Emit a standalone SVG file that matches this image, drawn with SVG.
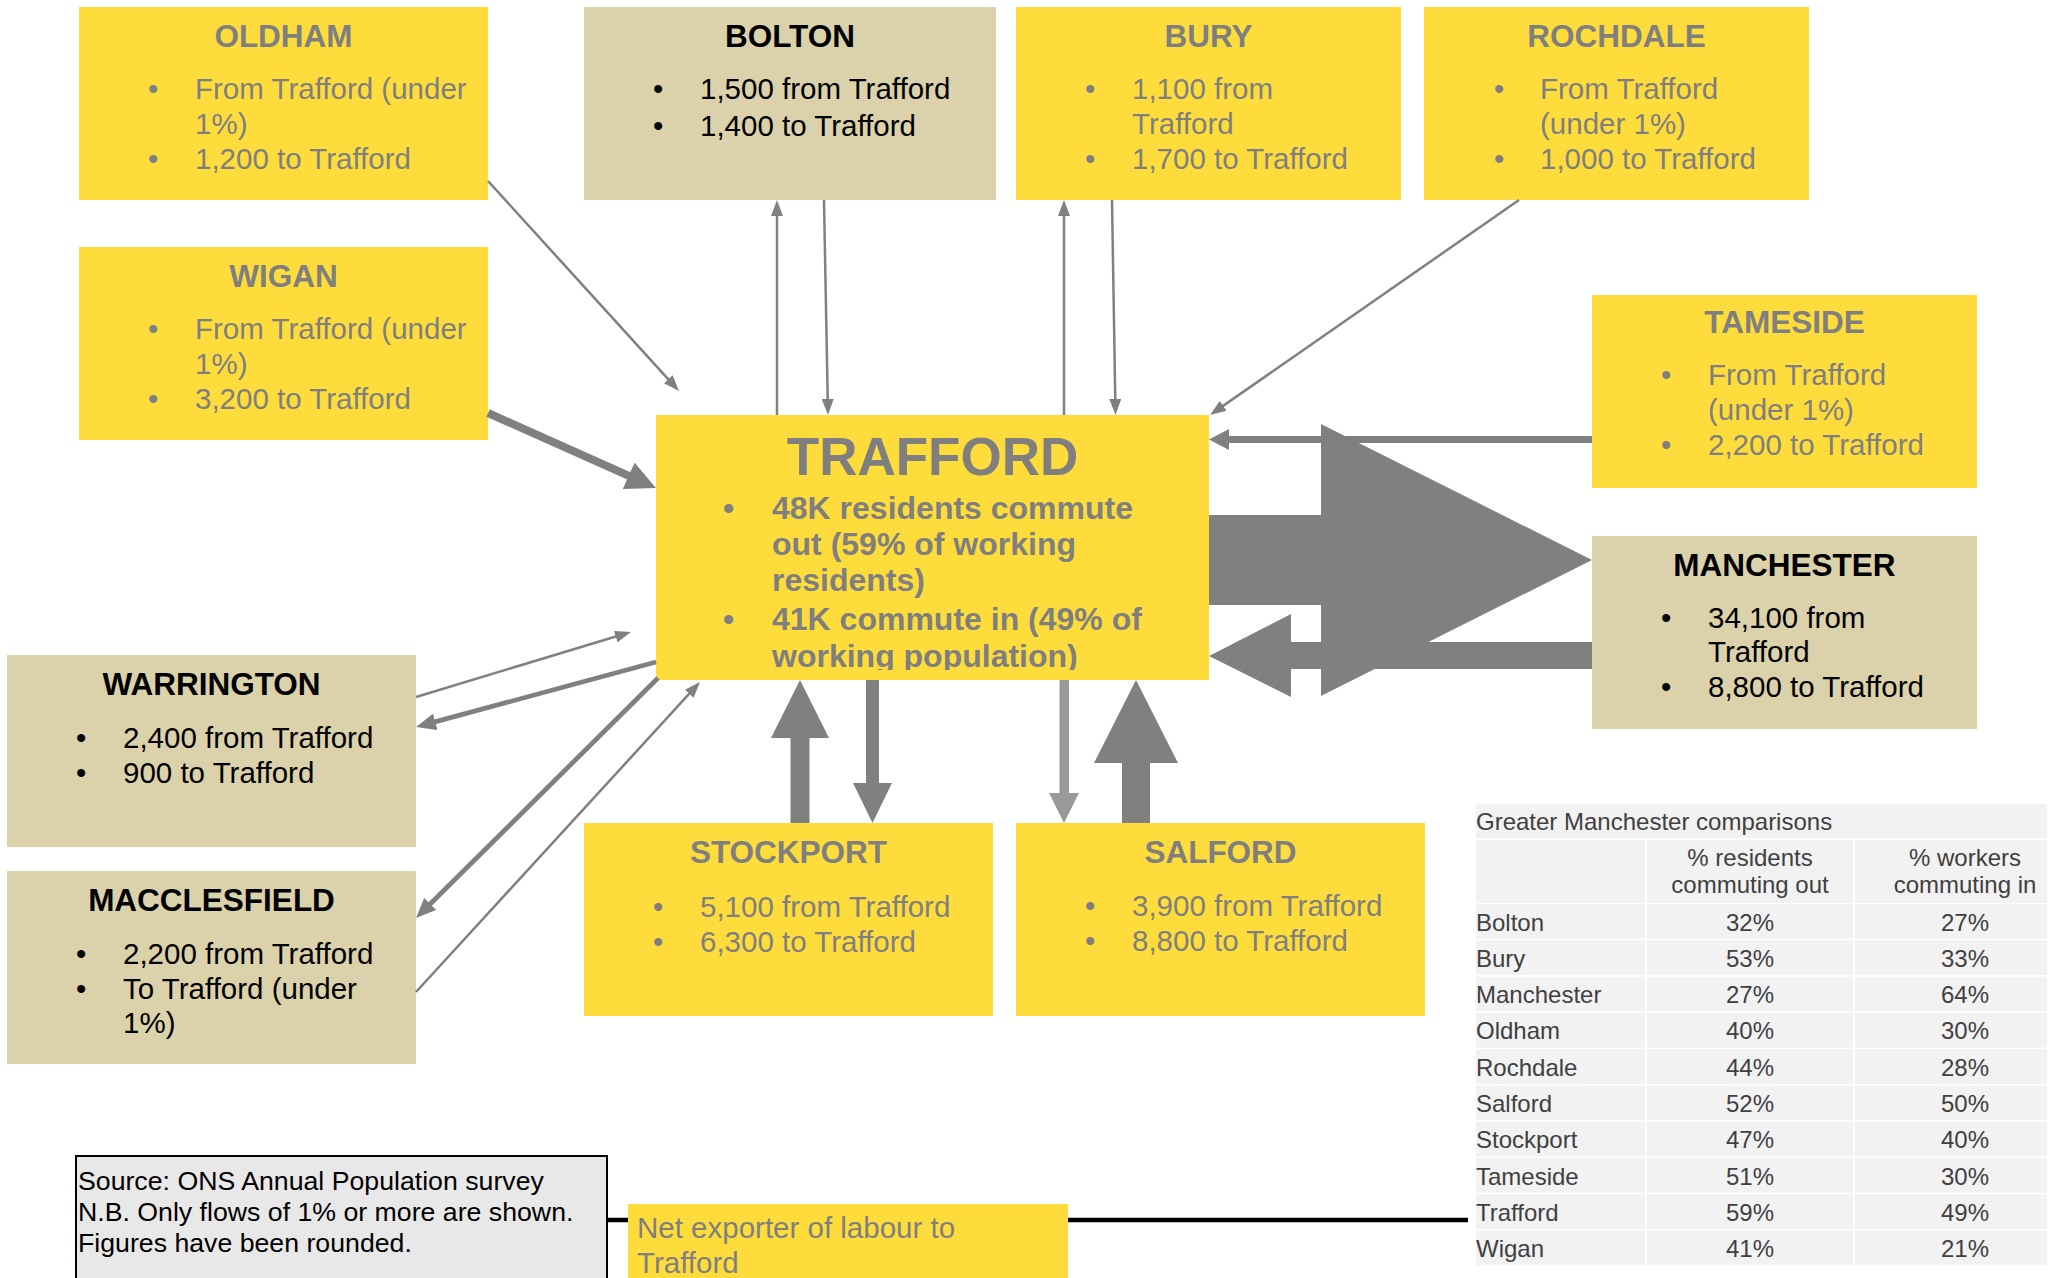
<svg xmlns="http://www.w3.org/2000/svg" width="2053" height="1278" viewBox="0 0 2053 1278">
<style>
text{font-family:"Liberation Sans",Arial,sans-serif}
.y{fill:#FEDC3C}
.b{fill:#DBD2AB}
.h{font-weight:bold;font-size:31.5px;text-anchor:middle}
.p{font-size:29.5px}
.g{fill:#7F7F7F}
.k{fill:#000}
.ln{stroke:#808080;fill:none}
.ar{fill:#808080}
.tc{fill:#F2F2F2}
.tt{font-size:24px;fill:#404040}
.tm{text-anchor:middle}
</style>
<defs>
<marker id="mThin" markerUnits="userSpaceOnUse" markerWidth="16" markerHeight="12" refX="8" refY="6" orient="auto"><path d="M0,0 L16,6 L0,12 z" fill="#808080"/></marker>
<marker id="mMed" markerUnits="userSpaceOnUse" markerWidth="20" markerHeight="17" refX="10" refY="8.5" orient="auto"><path d="M0,0 L20,8.5 L0,17 z" fill="#808080"/></marker>
<marker id="mWig" markerUnits="userSpaceOnUse" markerWidth="30" markerHeight="29" refX="15" refY="14.5" orient="auto"><path d="M0,0 L30,14.5 L0,29 z" fill="#808080"/></marker>
<marker id="mTam" markerUnits="userSpaceOnUse" markerWidth="20" markerHeight="21" refX="10" refY="10.5" orient="auto"><path d="M0,0 L20,10.5 L0,21 z" fill="#808080"/></marker>
<clipPath id="trClip"><rect x="656" y="415" width="553" height="255"/></clipPath>
</defs>

<g id="oldham">
<rect class="y" x="79" y="7" width="409" height="193"/>
<text class="h g" x="283.5" y="47">OLDHAM</text>
<text class="p g" x="148" y="99">•</text><text class="p g" x="195" y="99">From Trafford (under</text>
<text class="p g" x="195" y="134">1%)</text>
<text class="p g" x="148" y="169">•</text><text class="p g" x="195" y="169">1,200 to Trafford</text>
</g>

<g id="bolton">
<rect class="b" x="584" y="7" width="412" height="193"/>
<text class="h k" x="790" y="47">BOLTON</text>
<text class="p k" x="653" y="99">•</text><text class="p k" x="700" y="99">1,500 from Trafford</text>
<text class="p k" x="653" y="135.5">•</text><text class="p k" x="700" y="135.5">1,400 to Trafford</text>
</g>

<g id="bury">
<rect class="y" x="1016" y="7" width="385" height="193"/>
<text class="h g" x="1208.5" y="47">BURY</text>
<text class="p g" x="1085" y="99">•</text><text class="p g" x="1132" y="99">1,100 from</text>
<text class="p g" x="1132" y="134">Trafford</text>
<text class="p g" x="1085" y="169">•</text><text class="p g" x="1132" y="169">1,700 to Trafford</text>
</g>

<g id="rochdale">
<rect class="y" x="1424" y="7" width="385" height="193"/>
<text class="h g" x="1616.5" y="47">ROCHDALE</text>
<text class="p g" x="1494" y="99">•</text><text class="p g" x="1540" y="99">From Trafford</text>
<text class="p g" x="1540" y="134">(under 1%)</text>
<text class="p g" x="1494" y="169">•</text><text class="p g" x="1540" y="169">1,000 to Trafford</text>
</g>

<g id="wigan">
<rect class="y" x="79" y="247" width="409" height="193"/>
<text class="h g" x="283.5" y="287">WIGAN</text>
<text class="p g" x="148" y="339">•</text><text class="p g" x="195" y="339">From Trafford (under</text>
<text class="p g" x="195" y="374">1%)</text>
<text class="p g" x="148" y="409">•</text><text class="p g" x="195" y="409">3,200 to Trafford</text>
</g>

<g id="tameside">
<rect class="y" x="1592" y="295" width="385" height="193"/>
<text class="h g" x="1784.5" y="333">TAMESIDE</text>
<text class="p g" x="1661" y="384.5">•</text><text class="p g" x="1708" y="384.5">From Trafford</text>
<text class="p g" x="1708" y="419.5">(under 1%)</text>
<text class="p g" x="1661" y="454.5">•</text><text class="p g" x="1708" y="454.5">2,200 to Trafford</text>
</g>

<g id="manchester">
<rect class="b" x="1592" y="536" width="385" height="193"/>
<text class="h k" x="1784.5" y="576">MANCHESTER</text>
<text class="p k" x="1661" y="628">•</text><text class="p k" x="1708" y="628">34,100 from</text>
<text class="p k" x="1708" y="662">Trafford</text>
<text class="p k" x="1661" y="697">•</text><text class="p k" x="1708" y="697">8,800 to Trafford</text>
</g>

<g id="trafford">
<rect class="y" x="656" y="415" width="553" height="265"/>
<text class="g" x="932.5" y="475" font-size="53" font-weight="bold" text-anchor="middle">TRAFFORD</text>
<g clip-path="url(#trClip)" font-size="32" font-weight="bold">
<text class="g" x="723" y="518.5">•</text><text class="g" x="772" y="518.5">48K residents commute</text>
<text class="g" x="772" y="554.5">out (59% of working</text>
<text class="g" x="772" y="590.5">residents)</text>
<text class="g" x="723" y="630">•</text><text class="g" x="772" y="630">41K commute in (49% of</text>
<text class="g" x="772" y="667">working population)</text>
</g>
</g>

<g id="warrington">
<rect class="b" x="7" y="655" width="409" height="192"/>
<text class="h k" x="211.5" y="695">WARRINGTON</text>
<text class="p k" x="76" y="747.5">•</text><text class="p k" x="123" y="747.5">2,400 from Trafford</text>
<text class="p k" x="76" y="783">•</text><text class="p k" x="123" y="783">900 to Trafford</text>
</g>

<g id="macclesfield">
<rect class="b" x="7" y="871" width="409" height="193"/>
<text class="h k" x="211.5" y="911">MACCLESFIELD</text>
<text class="p k" x="76" y="964">•</text><text class="p k" x="123" y="964">2,200 from Trafford</text>
<text class="p k" x="76" y="999">•</text><text class="p k" x="123" y="999">To Trafford (under</text>
<text class="p k" x="123" y="1033">1%)</text>
</g>

<g id="stockport">
<rect class="y" x="584" y="823" width="409" height="193"/>
<text class="h g" x="788.5" y="863">STOCKPORT</text>
<text class="p g" x="653" y="916.5">•</text><text class="p g" x="700" y="916.5">5,100 from Trafford</text>
<text class="p g" x="653" y="952">•</text><text class="p g" x="700" y="952">6,300 to Trafford</text>
</g>

<g id="salford">
<rect class="y" x="1016" y="823" width="409" height="193"/>
<text class="h g" x="1220.5" y="863">SALFORD</text>
<text class="p g" x="1085" y="916">•</text><text class="p g" x="1132" y="916">3,900 from Trafford</text>
<text class="p g" x="1085" y="951">•</text><text class="p g" x="1132" y="951">8,800 to Trafford</text>
</g>

<g id="connectors">
<line class="ln" stroke-width="2.5" x1="488" y1="181" x2="673.6" y2="385.1" marker-end="url(#mThin)"/>
<line class="ln" stroke-width="2.5" x1="777" y1="415" x2="777" y2="208" marker-end="url(#mThin)"/>
<line class="ln" stroke-width="2.5" x1="824" y1="200" x2="827.85" y2="407" marker-end="url(#mThin)"/>
<line class="ln" stroke-width="2.5" x1="1064" y1="415" x2="1064" y2="208" marker-end="url(#mThin)"/>
<line class="ln" stroke-width="2.5" x1="1112" y1="200" x2="1115.4" y2="407" marker-end="url(#mThin)"/>
<line class="ln" stroke-width="2.5" x1="1519" y1="200" x2="1216.6" y2="410.4" marker-end="url(#mThin)"/>
<line class="ln" stroke-width="2.5" x1="416" y1="697" x2="623.3" y2="634.3" marker-end="url(#mThin)"/>
<line class="ln" stroke-width="2.5" x1="416" y1="992" x2="694.6" y2="687.9" marker-end="url(#mThin)"/>
<line class="ln" stroke-width="4.75" x1="656" y1="662" x2="425.7" y2="724.4" marker-end="url(#mMed)"/>
<line class="ln" stroke-width="4.75" x1="658" y1="678" x2="423.1" y2="911" marker-end="url(#mMed)"/>
<line class="ln" stroke-width="8" x1="488" y1="413" x2="642.3" y2="481.9" marker-end="url(#mWig)"/>
<line class="ln" stroke-width="7" x1="1592" y1="439.5" x2="1219" y2="439.5" marker-end="url(#mTam)"/>
<polygon class="ar" points="1592,642 1291,642 1291,614 1209,656 1291,697 1291,669 1592,669"/>
<polygon class="ar" points="1209,515 1321,515 1321,424 1592,560 1321,696 1321,605 1209,605"/>
<polygon class="ar" points="790.5,823 790.5,738 771,738 800,680 829,738 809.5,738 809.5,823"/>
<polygon class="ar" points="866,680 879,680 879,783 892,783 872.5,823 853,783 866,783"/>
<polygon fill="#999999" points="1059.5,680 1069,680 1069,793 1079,793 1064,823 1049,793 1059.5,793"/>
<polygon class="ar" points="1122,823 1122,763 1094,763 1136,680 1178,763 1150,763 1150,823"/>
<line stroke="#000" stroke-width="4.5" x1="607" y1="1220" x2="1468" y2="1220"/>
</g>

<g id="source">
<rect x="76" y="1156" width="531" height="140" fill="#E8E8E8" stroke="#000" stroke-width="2"/>
<text x="78" y="1190" font-size="26.7" fill="#000">Source: ONS Annual Population survey</text>
<text x="78" y="1221" font-size="26.7" fill="#000">N.B. Only flows of 1% or more are shown.</text>
<text x="78" y="1252" font-size="26.7" fill="#000">Figures have been rounded.</text>
</g>

<g id="net-exporter">
<rect class="y" x="628" y="1204" width="440" height="90"/>
<text class="p g" x="637" y="1238">Net exporter of labour to</text>
<text class="p g" x="637" y="1273">Trafford</text>
</g>

<g id="table">
<rect class="tc" x="1476" y="804" width="571" height="34"/>
<rect class="tc" x="1476" y="840" width="169" height="63"/>
<rect class="tc" x="1647" y="840" width="206" height="63"/>
<rect class="tc" x="1855" y="840" width="192" height="63"/>
<text class="tt" x="1476" y="830">Greater Manchester comparisons</text>
<text class="tt tm" x="1750" y="866">% residents</text>
<text class="tt tm" x="1750" y="893">commuting out</text>
<text class="tt tm" x="1965" y="866">% workers</text>
<text class="tt tm" x="1965" y="893">commuting in</text>
<g id="rows">
<rect class="tc" x="1476" y="904" width="169" height="34.6"/><rect class="tc" x="1647" y="904" width="206" height="34.6"/><rect class="tc" x="1855" y="904" width="192" height="34.6"/>
<rect class="tc" x="1476" y="940.3" width="169" height="34.6"/><rect class="tc" x="1647" y="940.3" width="206" height="34.6"/><rect class="tc" x="1855" y="940.3" width="192" height="34.6"/>
<rect class="tc" x="1476" y="976.6" width="169" height="34.6"/><rect class="tc" x="1647" y="976.6" width="206" height="34.6"/><rect class="tc" x="1855" y="976.6" width="192" height="34.6"/>
<rect class="tc" x="1476" y="1012.9" width="169" height="34.6"/><rect class="tc" x="1647" y="1012.9" width="206" height="34.6"/><rect class="tc" x="1855" y="1012.9" width="192" height="34.6"/>
<rect class="tc" x="1476" y="1049.2" width="169" height="34.6"/><rect class="tc" x="1647" y="1049.2" width="206" height="34.6"/><rect class="tc" x="1855" y="1049.2" width="192" height="34.6"/>
<rect class="tc" x="1476" y="1085.5" width="169" height="34.6"/><rect class="tc" x="1647" y="1085.5" width="206" height="34.6"/><rect class="tc" x="1855" y="1085.5" width="192" height="34.6"/>
<rect class="tc" x="1476" y="1121.8" width="169" height="34.6"/><rect class="tc" x="1647" y="1121.8" width="206" height="34.6"/><rect class="tc" x="1855" y="1121.8" width="192" height="34.6"/>
<rect class="tc" x="1476" y="1158.1" width="169" height="34.6"/><rect class="tc" x="1647" y="1158.1" width="206" height="34.6"/><rect class="tc" x="1855" y="1158.1" width="192" height="34.6"/>
<rect class="tc" x="1476" y="1194.4" width="169" height="34.6"/><rect class="tc" x="1647" y="1194.4" width="206" height="34.6"/><rect class="tc" x="1855" y="1194.4" width="192" height="34.6"/>
<rect class="tc" x="1476" y="1230.7" width="169" height="34.6"/><rect class="tc" x="1647" y="1230.7" width="206" height="34.6"/><rect class="tc" x="1855" y="1230.7" width="192" height="34.6"/>
<text class="tt" x="1476" y="930.5">Bolton</text><text class="tt tm" x="1750" y="930.5">32%</text><text class="tt tm" x="1965" y="930.5">27%</text>
<text class="tt" x="1476" y="966.8">Bury</text><text class="tt tm" x="1750" y="966.8">53%</text><text class="tt tm" x="1965" y="966.8">33%</text>
<text class="tt" x="1476" y="1003.1">Manchester</text><text class="tt tm" x="1750" y="1003.1">27%</text><text class="tt tm" x="1965" y="1003.1">64%</text>
<text class="tt" x="1476" y="1039.4">Oldham</text><text class="tt tm" x="1750" y="1039.4">40%</text><text class="tt tm" x="1965" y="1039.4">30%</text>
<text class="tt" x="1476" y="1075.7">Rochdale</text><text class="tt tm" x="1750" y="1075.7">44%</text><text class="tt tm" x="1965" y="1075.7">28%</text>
<text class="tt" x="1476" y="1112">Salford</text><text class="tt tm" x="1750" y="1112">52%</text><text class="tt tm" x="1965" y="1112">50%</text>
<text class="tt" x="1476" y="1148.3">Stockport</text><text class="tt tm" x="1750" y="1148.3">47%</text><text class="tt tm" x="1965" y="1148.3">40%</text>
<text class="tt" x="1476" y="1184.6">Tameside</text><text class="tt tm" x="1750" y="1184.6">51%</text><text class="tt tm" x="1965" y="1184.6">30%</text>
<text class="tt" x="1476" y="1220.9">Trafford</text><text class="tt tm" x="1750" y="1220.9">59%</text><text class="tt tm" x="1965" y="1220.9">49%</text>
<text class="tt" x="1476" y="1257.2">Wigan</text><text class="tt tm" x="1750" y="1257.2">41%</text><text class="tt tm" x="1965" y="1257.2">21%</text>
</g>
</g>
</svg>
